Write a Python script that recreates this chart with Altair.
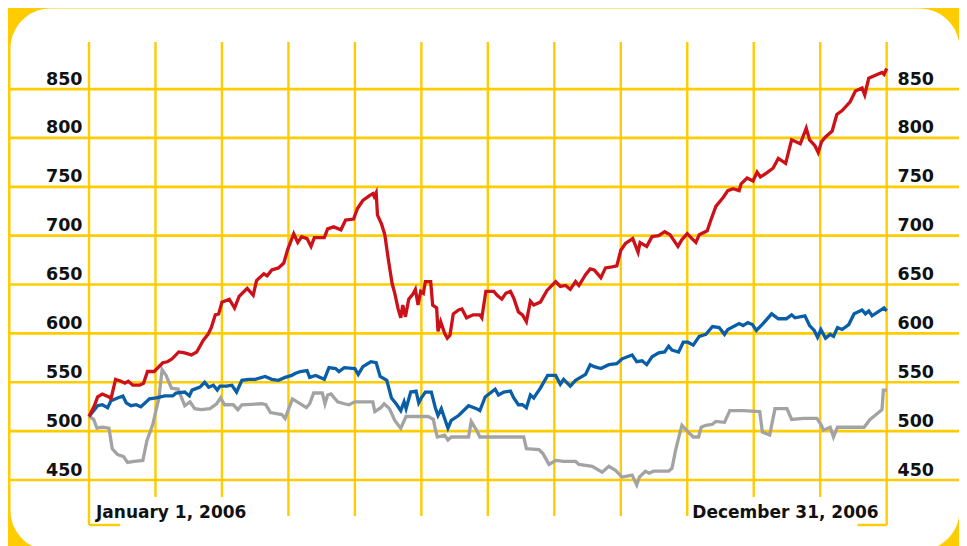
import altair as alt
import pandas as pd

YELLOW = "#FFCC00"
RED = "#CC1119"
BLUE = "#0A5EA8"
GRAY = "#A3A3A3"
FONT = "DejaVu Sans"

# ---- data (x = months elapsed since January 1, 2006) ----
red_x = [0.0, 0.08, 0.13, 0.2, 0.3, 0.33, 0.4, 0.48, 0.54, 0.59,
         0.66, 0.76, 0.82, 0.88, 0.98, 1.11, 1.18, 1.25, 1.35, 1.44,
         1.54, 1.62, 1.72, 1.79, 1.84, 1.9, 1.95, 2.0, 2.11, 2.19,
         2.26, 2.38, 2.47, 2.52, 2.63, 2.68, 2.75, 2.85, 2.93, 2.99,
         3.08, 3.14, 3.2, 3.28, 3.34, 3.39, 3.54, 3.59, 3.68, 3.79,
         3.86, 3.98, 4.04, 4.12, 4.22, 4.27, 4.29, 4.32, 4.34, 4.4,
         4.45, 4.5, 4.56, 4.6, 4.65, 4.69, 4.72, 4.76, 4.81, 4.87,
         4.91, 4.95, 4.99, 5.03, 5.06, 5.14, 5.17, 5.23, 5.25, 5.29,
         5.35, 5.39, 5.43, 5.48, 5.56, 5.61, 5.68, 5.78, 5.88, 5.91,
         5.97, 6.09, 6.14, 6.21, 6.27, 6.34, 6.39, 6.46, 6.52, 6.58,
         6.64, 6.69, 6.79, 6.89, 7.02, 7.09, 7.17, 7.24, 7.32, 7.37,
         7.47, 7.54, 7.6, 7.7, 7.77, 7.87, 7.94, 8.0, 8.07, 8.18,
         8.26, 8.29, 8.39, 8.47, 8.57, 8.66, 8.74, 8.86, 8.92, 9.0,
         9.07, 9.13, 9.18, 9.3, 9.35, 9.43, 9.54, 9.61, 9.69, 9.78,
         9.81, 9.9, 9.99, 10.05, 10.1, 10.19, 10.29, 10.37, 10.48, 10.57,
         10.7, 10.79, 10.84, 10.92, 10.97, 11.02, 11.08, 11.18, 11.25, 11.33,
         11.45, 11.53, 11.63, 11.67, 11.73, 11.83, 11.93, 11.96, 12.0]
red_y = [515, 526, 535, 538, 535, 533, 553, 551, 549, 551,
         547, 547, 549, 561, 561, 570, 571, 574, 581, 580,
         578, 581, 593, 599, 606, 619, 620, 632, 635, 626,
         638, 646, 639, 654, 661, 659, 665, 667, 672, 686,
         702, 693, 699, 697, 689, 698, 698, 707, 709, 706,
         716, 717, 728, 736, 741, 743, 740, 744, 721, 712,
         701, 677, 651, 641, 625, 616, 629, 617, 635, 640,
         645, 629, 643, 641, 653, 653, 629, 626, 602, 612,
         600, 595, 598, 620, 624, 625, 616, 619, 619, 616,
         643, 643, 639, 635, 641, 643, 636, 622, 619, 612,
         633, 629, 632, 644, 653, 648, 649, 645, 653, 649,
         660, 666, 665, 657, 667, 668, 669, 685, 692, 697,
         683, 693, 689, 699, 700, 704, 701, 689, 696, 702,
         697, 693, 701, 705, 715, 730, 739, 746, 748, 746,
         753, 759, 756, 765, 760, 764, 769, 779, 774, 798,
         794, 810, 798, 792, 785, 796, 801, 807, 824, 828,
         837, 848, 851, 844, 861, 864, 867, 865, 871]

blue_x = [0.0, 0.13, 0.2, 0.28, 0.33, 0.43, 0.51, 0.56, 0.63, 0.71,
          0.78, 0.83, 0.91, 1.01, 1.14, 1.26, 1.31, 1.44, 1.51, 1.55,
          1.67, 1.74, 1.8, 1.87, 1.93, 1.97, 2.07, 2.15, 2.22, 2.3,
          2.4, 2.5, 2.65, 2.75, 2.85, 2.95, 3.05, 3.1, 3.18, 3.28,
          3.32, 3.41, 3.54, 3.61, 3.71, 3.76, 3.84, 4.0, 4.05, 4.12,
          4.24, 4.32, 4.38, 4.48, 4.55, 4.62, 4.69, 4.74, 4.77, 4.84,
          4.92, 4.96, 5.0, 5.06, 5.15, 5.21, 5.25, 5.3, 5.4, 5.45,
          5.56, 5.71, 5.83, 5.88, 5.96, 6.11, 6.16, 6.24, 6.34, 6.39,
          6.46, 6.52, 6.58, 6.64, 6.69, 6.79, 6.9, 7.02, 7.09, 7.14,
          7.24, 7.32, 7.47, 7.54, 7.6, 7.7, 7.82, 7.94, 8.02, 8.17,
          8.24, 8.32, 8.39, 8.47, 8.57, 8.66, 8.72, 8.77, 8.87, 8.94,
          9.01, 9.09, 9.18, 9.28, 9.38, 9.48, 9.56, 9.61, 9.78, 9.84,
          9.91, 9.98, 10.04, 10.14, 10.27, 10.37, 10.49, 10.57, 10.62, 10.77,
          10.84, 10.91, 10.96, 11.01, 11.08, 11.15, 11.2, 11.26, 11.33, 11.43,
          11.51, 11.63, 11.68, 11.73, 11.78, 11.96, 12.0]
blue_y = [515, 526, 527, 524, 531, 534, 536, 529, 526, 527,
          525, 528, 533, 534, 536, 536, 539, 540, 536, 542,
          545, 550, 545, 547, 542, 546, 546, 547, 540, 552,
          553, 553, 556, 553, 552, 555, 557, 559, 561, 562,
          555, 557, 553, 565, 564, 561, 565, 564, 558, 566,
          571, 570, 556, 552, 534, 528, 521, 530, 523, 540,
          541, 529, 534, 540, 540, 524, 516, 523, 503, 511,
          516, 526, 523, 521, 535, 543, 537, 540, 541, 534,
          527, 527, 524, 537, 534, 544, 557, 557, 548, 553,
          546, 552, 558, 568, 566, 564, 568, 569, 574, 578,
          571, 572, 568, 576, 580, 581, 587, 583, 581, 591,
          591, 588, 597, 599, 607, 606, 599, 604, 610, 608,
          611, 609, 603, 610, 620, 615, 615, 619, 616, 618,
          608, 603, 596, 604, 595, 599, 597, 606, 604, 609,
          620, 624, 620, 623, 618, 626, 623]

gray_x = [0.0, 0.07, 0.12, 0.2, 0.3, 0.35, 0.43, 0.52, 0.58, 0.68,
          0.81, 0.87, 0.96, 1.01, 1.05, 1.1, 1.16, 1.24, 1.34, 1.44,
          1.52, 1.59, 1.69, 1.82, 1.92, 1.98, 2.04, 2.17, 2.24, 2.3,
          2.6, 2.66, 2.73, 2.9, 2.95, 3.06, 3.18, 3.27, 3.32, 3.38,
          3.51, 3.55, 3.59, 3.64, 3.74, 3.84, 3.91, 4.0, 4.27, 4.3,
          4.39, 4.44, 4.52, 4.6, 4.69, 4.77, 5.1, 5.18, 5.21, 5.24,
          5.35, 5.4, 5.45, 5.71, 5.75, 5.83, 5.88, 6.54, 6.58, 6.77,
          6.83, 6.92, 7.02, 7.14, 7.32, 7.37, 7.57, 7.72, 7.82, 7.92,
          8.02, 8.17, 8.24, 8.28, 8.37, 8.43, 8.49, 8.72, 8.77, 8.82,
          8.87, 8.92, 9.0, 9.09, 9.17, 9.21, 9.28, 9.38, 9.43, 9.56,
          9.64, 9.84, 10.09, 10.13, 10.24, 10.32, 10.5, 10.57, 10.75, 10.95,
          11.01, 11.05, 11.15, 11.2, 11.26, 11.66, 11.75, 11.86, 11.93, 11.95,
          12.0]
gray_y = [515, 512, 503, 504, 503, 482, 476, 474, 468, 469,
          470, 490, 507, 522, 533, 563, 557, 544, 543, 526,
          530, 523, 522, 523, 528, 534, 527, 527, 522, 527,
          528, 527, 519, 517, 513, 533, 528, 524, 528, 539,
          539, 528, 537, 538, 530, 528, 527, 530, 530, 520,
          524, 528, 523, 511, 503, 515, 515, 512, 502, 494,
          496, 491, 494, 494, 510, 501, 494, 494, 482, 481,
          477, 466, 470, 469, 469, 466, 464, 458, 464, 460,
          453, 455, 445, 453, 459, 457, 459, 459, 462, 479,
          493, 506, 500, 494, 494, 504, 506, 507, 510, 509,
          521, 521, 520, 499, 496, 523, 523, 512, 513, 513,
          507, 501, 504, 494, 504, 504, 512, 518, 522, 542,
          542]

y_ticks = [450, 500, 550, 600, 650, 700, 750, 800, 850]
month_lines = list(range(13))
month_line_top = [898] * 13
month_line_bottom = [404, 432.6, 432.6, 413.2, 413.2, 413.2, 413.2,
                     413.2, 413.2, 413.2, 432.6, 432.6, 404]
foot_start = [0, 11.56]
foot_end = [0.47, 12]
foot_level = [404, 404]
date_labels = ["January 1, 2006", "December 31, 2006"]
date_label_x = [0, 12]
date_label_level = 411.5

# ---- geometry of the white panel (plot area) ----
W, H = 949, 542
X_DOMAIN = [-1.1885, 13.088]
Y_DOMAIN = [378.4, 932.9]
xs = alt.Scale(domain=X_DOMAIN, nice=False, zero=False)
ys = alt.Scale(domain=Y_DOMAIN, nice=False, zero=False)


def value_axis(orient, offset, align):
    return alt.Axis(orient=orient, offset=offset, values=y_ticks, ticks=False,
                    domain=False, grid=False, labelPadding=0, title=None,
                    labelFont=FONT, labelFontSize=17.5, labelFontWeight="bold",
                    labelColor="#111111", labelBaseline="alphabetic",
                    labelOffset=-5, labelOverlap=False, labelAlign=align)


hgrid = alt.Chart(pd.DataFrame({"v": y_ticks})).mark_rule(
    color=YELLOW, strokeWidth=2.7
).encode(
    y=alt.Y("v:Q", scale=ys, axis=value_axis("left", -72, "right"))
)

vgrid = alt.Chart(pd.DataFrame({"m": month_lines, "top": month_line_top,
                                "bot": month_line_bottom})).mark_rule(
    color=YELLOW, strokeWidth=2.4
).encode(
    x=alt.X("m:Q", scale=xs, axis=None),
    y=alt.Y("top:Q", scale=ys, axis=None),
    y2="bot:Q",
)

feet = alt.Chart(pd.DataFrame({"a": foot_start, "b": foot_end,
                               "lv": foot_level})).mark_rule(
    color=YELLOW, strokeWidth=2.4
).encode(
    x=alt.X("a:Q", scale=xs, axis=None),
    x2="b:Q",
    y=alt.Y("lv:Q", scale=ys, axis=None),
)


def series(xv, yv, color, yaxis=None):
    return alt.Chart(pd.DataFrame({"x": xv, "y": yv})).mark_line(
        color=color, strokeWidth=3.3
    ).encode(
        x=alt.X("x:Q", scale=xs, axis=None),
        y=alt.Y("y:Q", scale=ys, axis=yaxis),
        order="x:Q",
    )


gray_line = series(gray_x, gray_y, GRAY)
blue_line = series(blue_x, blue_y, BLUE)
red_line = series(red_x, red_y, RED, value_axis("right", -62, "left"))

lab_df = pd.DataFrame({"t": date_labels, "x": date_label_x,
                       "lv": [date_label_level] * 2})
left_lab = alt.Chart(lab_df.iloc[[0]]).mark_text(
    align="left", baseline="alphabetic", dx=7, font=FONT, fontSize=17,
    fontWeight="bold", color="#111111"
).encode(x=alt.X("x:Q", scale=xs, axis=None),
         y=alt.Y("lv:Q", scale=ys, axis=None), text="t:N")
right_lab = alt.Chart(lab_df.iloc[[1]]).mark_text(
    align="right", baseline="alphabetic", dx=-8, font=FONT, fontSize=17,
    fontWeight="bold", color="#111111"
).encode(x=alt.X("x:Q", scale=xs, axis=None),
         y=alt.Y("lv:Q", scale=ys, axis=None), text="t:N")

chart = alt.layer(
    hgrid, vgrid, feet, gray_line, blue_line, red_line, left_lab, right_lab
).resolve_axis(y="independent").properties(
    width=W, height=H, background=YELLOW,
    padding={"left": 2, "top": 0, "right": 0, "bottom": 0},
    autosize=alt.AutoSizeParams(type="none"),
).configure_view(fill="white", cornerRadius=40, stroke="transparent")

chart.save("out.html", embed_options={"renderer": "svg", "actions": False})
